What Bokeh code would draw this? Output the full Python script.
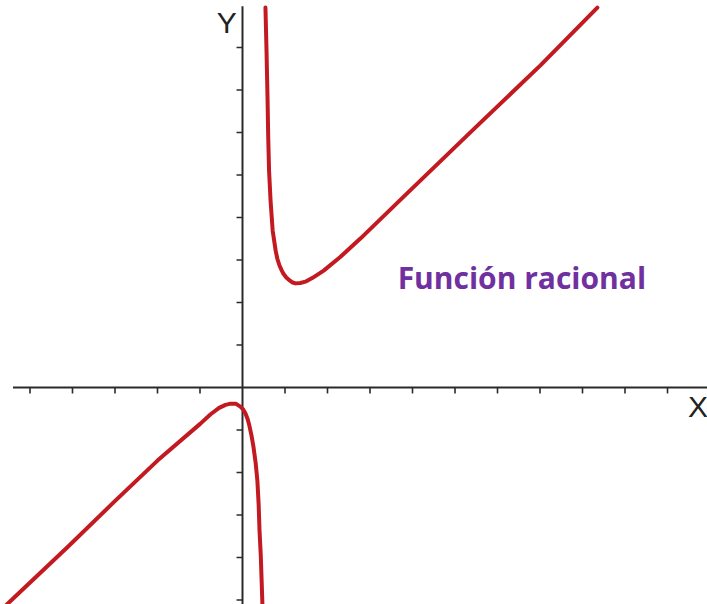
from bokeh.plotting import figure
from bokeh.models import Range1d
from bokeh.core.properties import value
from bokeh.embed import file_html
from bokeh.resources import INLINE

# Curve readings (data units), two branches of the rational function
lower_x = [-5.75, -5.39, -4.12, -3.04, -2.00, -0.99, -0.75, -0.55, -0.40, -0.28, -0.16, -0.05, 0.02, 0.07,
           0.12, 0.16, 0.21, 0.26, 0.31, 0.35, 0.38, 0.40, 0.43, 0.45, 0.47]
lower_y = [-5.30, -4.96, -3.76, -2.71, -1.72, -0.85, -0.63, -0.48, -0.41, -0.38, -0.38, -0.45, -0.52, -0.61,
           -0.74, -0.89, -1.12, -1.41, -1.78, -2.19, -2.75, -3.36, -3.95, -4.54, -5.15]

upper_x = [0.54, 0.565, 0.59, 0.605, 0.625, 0.66, 0.71, 0.78, 0.82, 0.87, 0.92, 0.96, 1.03, 1.11, 1.18, 1.25,
           1.36, 1.48, 1.65, 1.91, 2.30, 2.78, 3.72, 5.41, 7.01, 8.35]
upper_y = [8.94, 7.93, 6.75, 5.90, 5.10, 4.40, 3.69, 3.22, 3.03, 2.87, 2.76, 2.68, 2.59, 2.52, 2.47, 2.45,
           2.46, 2.49, 2.58, 2.75, 3.07, 3.51, 4.42, 6.05, 7.58, 8.94]

x_ticks = [-5, -4, -3, -2, -1, 1, 2, 3, 4, 5, 6, 7, 8, 9, 10]
y_ticks = [-5, -4, -3, -2, -1, 1, 2, 3, 4, 5, 6, 7, 8]

x_axis_span = [-5.4, 11.0]
y_axis_span = [-5.3, 8.97]
tick_len = 0.14

p = figure(width=707, height=604, output_backend="svg", toolbar_location=None,
           x_range=Range1d(-5.694, 10.941), y_range=Range1d(-5.106, 9.106),
           x_axis_location=None, y_axis_location=None, min_border=0,
           background_fill_color="white", border_fill_color="white")
p.outline_line_color = None
p.grid.visible = False

axis_color = "#2a2a2a"
# axis lines
p.segment(x0=[x_axis_span[0]], y0=[0], x1=[x_axis_span[1]], y1=[0], line_color=axis_color, line_width=2)
p.segment(x0=[0], y0=[y_axis_span[0]], x1=[0], y1=[y_axis_span[1]], line_color=axis_color, line_width=2)
# ticks (below x axis, left of y axis)
p.segment(x0=x_ticks, y0=[0] * len(x_ticks), x1=x_ticks, y1=[-tick_len] * len(x_ticks),
          line_color=axis_color, line_width=1.6)
p.segment(x0=[0] * len(y_ticks), y0=y_ticks, x1=[-tick_len] * len(y_ticks), y1=y_ticks,
          line_color=axis_color, line_width=1.6)

curve_color = "#c21a20"
p.line(lower_x, lower_y, line_color=curve_color, line_width=4, line_join="round", line_cap="round")
p.line(upper_x, upper_y, line_color=curve_color, line_width=4, line_join="round", line_cap="round")

p.text(x=[10.72], y=[-0.45], text=["X"], text_font=value("Liberation Sans"),
       text_font_size="30px", text_color="#222222", text_align="center", text_baseline="middle")
p.text(x=[-0.37], y=[8.58], text=["Y"], text_font=value("Liberation Sans"),
       text_font_size="30px", text_color="#222222", text_align="center", text_baseline="middle")
p.text(x=[3.65], y=[2.58], text=["Función racional"], text_font=value("Open Sans"),
       text_font_size="30px", text_font_style="bold", text_color="#7030A0",
       text_align="left", text_baseline="alphabetic")

open("out.html", "w").write(file_html(p, INLINE))
